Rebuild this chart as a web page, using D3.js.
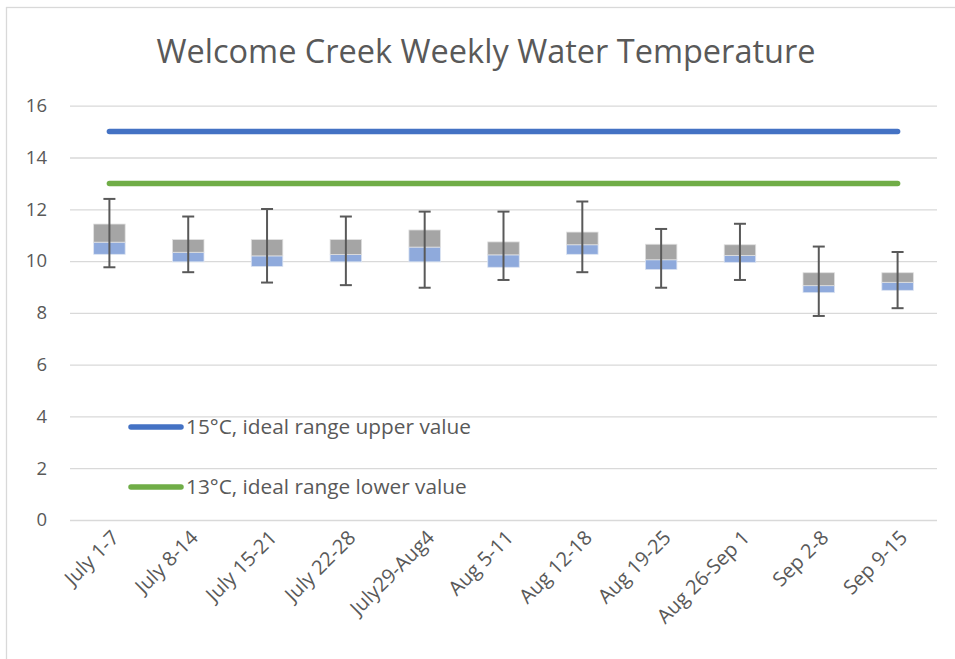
<!DOCTYPE html>
<html><head><meta charset="utf-8">
<script src="https://cdnjs.cloudflare.com/ajax/libs/d3/7.8.5/d3.min.js"></script>
<style>html,body{margin:0;padding:0;background:#fff;}svg{display:block;}</style>
</head><body>
<svg id="c" width="955" height="659"></svg>
<script>
const categories = ["July 1-7","July 8-14","July 15-21","July 22-28","July29-Aug4","Aug 5-11","Aug 12-18","Aug 19-25","Aug 26-Sep 1","Sep 2-8","Sep 9-15"];
const minVals    = [9.76, 9.57, 9.17, 9.07, 8.97, 9.27, 9.57, 8.97, 9.27, 7.88, 8.18];
const q1Vals     = [10.26, 9.97, 9.79, 9.97, 9.97, 9.76, 10.26, 9.67, 9.95, 8.78, 8.87];
const medianVals = [10.73, 10.34, 10.20, 10.25, 10.54, 10.24, 10.63, 10.05, 10.22, 9.05, 9.18];
const q3Vals     = [11.43, 10.83, 10.83, 10.83, 11.20, 10.74, 11.12, 10.65, 10.63, 9.55, 9.55];
const maxVals    = [12.40, 11.72, 12.01, 11.72, 11.91, 11.91, 12.30, 11.24, 11.44, 10.56, 10.35];
const refLines = [
  {value: 15, label: "15°C, ideal range upper value", color: "#4472C4"},
  {value: 13, label: "13°C, ideal range lower value", color: "#70AD47"}
];
const yTicks = [0,2,4,6,8,10,12,14,16];
const title = "Welcome Creek Weekly Water Temperature";

const svg = d3.select("#c");
const font = "'Open Sans', 'Segoe UI', sans-serif";
const textColor = "#595959";

// chart frame
svg.append("rect").attr("x",6.5).attr("y",7.5).attr("width",1000).attr("height",700)
  .attr("fill","none").attr("stroke","#d9d9d9").attr("stroke-width",1.3);

const x = d3.scaleBand().domain(categories).range([70, 937]).padding(0);
const y = d3.scaleLinear().domain([0,16]).range([520, 105.7]);

// title
svg.append("text").attr("x", 486).attr("y", 63).attr("text-anchor","middle")
  .attr("font-family", font).attr("font-size", 32.5).attr("fill", textColor).text(title);

// gridlines
const yAxis = d3.axisLeft(y).tickValues(yTicks).tickSize(-(937-70)).tickPadding(23).tickFormat(d3.format("d"));
const gy = svg.append("g").attr("transform","translate(70,0)").call(yAxis);
gy.select(".domain").remove();
gy.selectAll(".tick line").attr("stroke","#d9d9d9").attr("stroke-width",1.3);
gy.selectAll(".tick text").attr("font-family",font).attr("font-size",18.5).attr("fill",textColor);

// x axis labels
const xAxis = d3.axisBottom(x).tickSize(0).tickPadding(0);
const gx = svg.append("g").attr("transform","translate(0,520)").call(xAxis);
gx.select(".domain").remove();
gx.selectAll(".tick text")
  .attr("font-family",font).attr("font-size",20).attr("fill",textColor)
  .attr("text-anchor","end").attr("dy",0).attr("y",0)
  .attr("transform","translate(11,19) rotate(-45)");

// reference lines
const first = x(categories[0]) + x.bandwidth()/2;
const last = x(categories[categories.length-1]) + x.bandwidth()/2;
svg.selectAll(".ref").data(refLines).enter().append("line")
  .attr("x1", first).attr("x2", last)
  .attr("y1", d=>y(d.value)).attr("y2", d=>y(d.value))
  .attr("stroke", d=>d.color).attr("stroke-width",5.5).attr("stroke-linecap","round");

// boxes
const bw = x.bandwidth()*0.40;
const data = categories.map((c,i)=>({c, min:minVals[i], q1:q1Vals[i], med:medianVals[i], q3:q3Vals[i], max:maxVals[i]}));
const g = svg.append("g");
const cx = d => x(d.c) + x.bandwidth()/2;
g.selectAll(".lo").data(data).enter().append("rect")
  .attr("x", d=>cx(d)-bw/2).attr("width", bw)
  .attr("y", d=>y(d.med)).attr("height", d=>y(d.q1)-y(d.med))
  .attr("fill","#8FAADC").attr("stroke","#dce4f2").attr("stroke-width",0.8);
g.selectAll(".hi").data(data).enter().append("rect")
  .attr("x", d=>cx(d)-bw/2).attr("width", bw)
  .attr("y", d=>y(d.q3)).attr("height", d=>y(d.med)-y(d.q3))
  .attr("fill","#A5A5A5").attr("stroke","#e0e0e0").attr("stroke-width",0.8);
// whiskers
const wc = "#595959";
g.selectAll(".wv").data(data).enter().append("line")
  .attr("x1", cx).attr("x2", cx).attr("y1", d=>y(d.min)).attr("y2", d=>y(d.max))
  .attr("stroke", wc).attr("stroke-width",2);
["min","max"].forEach(k=>{
  g.selectAll(".cap"+k).data(data).enter().append("line")
    .attr("x1", d=>cx(d)-6).attr("x2", d=>cx(d)+6)
    .attr("y1", d=>y(d[k])).attr("y2", d=>y(d[k]))
    .attr("stroke", wc).attr("stroke-width",2);
});

// legend (inside plot)
const lg = svg.append("g");
refLines.forEach((d,i)=>{
  const ly = 427 + i*60;
  lg.append("line").attr("x1",131).attr("x2",181).attr("y1",ly).attr("y2",ly)
    .attr("stroke",d.color).attr("stroke-width",5.5).attr("stroke-linecap","round");
  lg.append("text").attr("x",186).attr("y",ly+7).attr("font-family",font)
    .attr("font-size",20.8).attr("fill",textColor).text(d.label);
});
</script>
</body></html>
